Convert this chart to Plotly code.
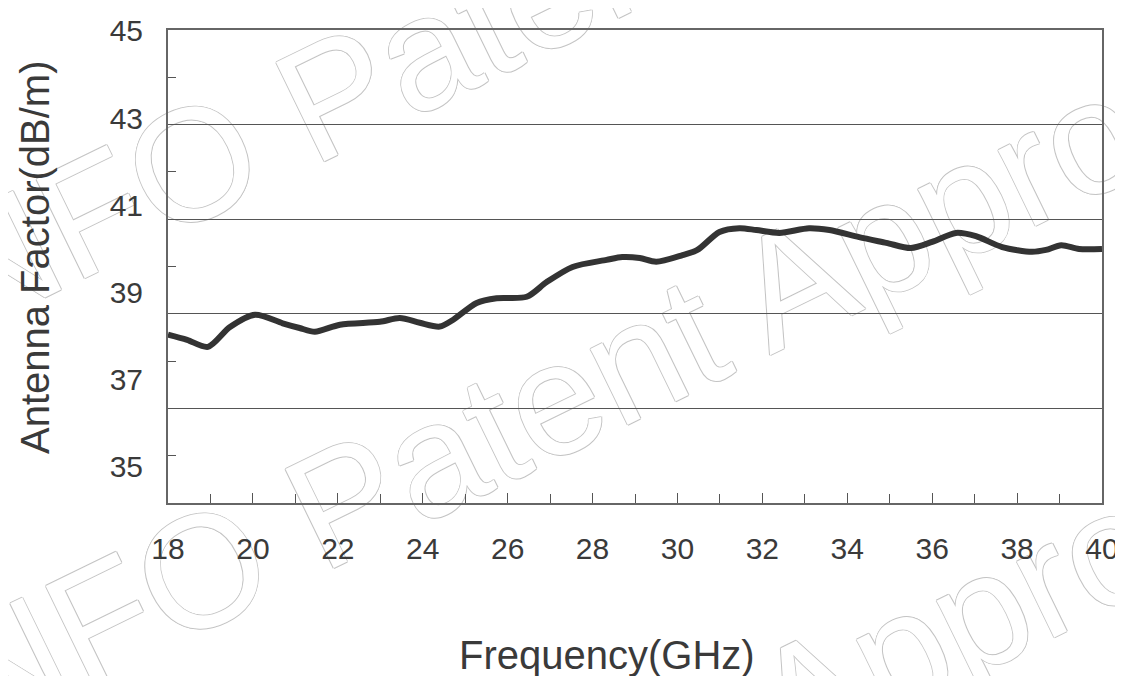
import plotly.graph_objects as go

# Frequency (GHz) and antenna factor (dB/m)
freq_ghz = [18.0, 18.45, 18.94, 19.46, 20.05, 20.7, 21.1, 21.46, 22.05, 22.99, 23.46,
            23.93, 24.4, 24.71, 25.27, 25.74, 26.45, 26.92, 27.53, 28.33, 28.7, 29.11,
            29.5, 30.12, 30.47, 30.99, 31.46, 31.86, 32.4, 33.1, 33.58, 34.28, 34.92,
            35.5, 36.0, 36.56, 37.03, 37.65, 38.35, 38.68, 39.04, 39.46, 40.0]
antenna_factor = [38.56, 38.45, 38.30, 38.72, 38.98, 38.80, 38.70, 38.62, 38.77, 38.83, 38.91,
                  38.81, 38.73, 38.87, 39.23, 39.33, 39.36, 39.67, 39.99, 40.14, 40.20, 40.18,
                  40.10, 40.24, 40.35, 40.73, 40.81, 40.77, 40.71, 40.81, 40.77, 40.62, 40.50,
                  40.39, 40.52, 40.71, 40.64, 40.41, 40.31, 40.35, 40.45, 40.37, 40.37]

x_ticks = [18, 20, 22, 24, 26, 28, 30, 32, 34, 36, 38, 40]
y_grid = [37, 39, 41, 43]
y_minor = [36, 38, 40, 42, 44]
y_labels = [35, 37, 39, 41, 43, 45]

watermark_text = "INFO Patent Approval"

FONT = "Liberation Sans, Arial, sans-serif"
TXT = "#3a3a3a"

fig = go.Figure()
fig.add_trace(go.Scatter(
    x=freq_ghz, y=antenna_factor, mode="lines",
    line=dict(color="#333333", width=6, shape="spline", smoothing=0.8),
    showlegend=False, hoverinfo="skip"))
fig.add_trace(go.Scatter(x=[None], y=[None], yaxis="y2", mode="lines",
                         showlegend=False, hoverinfo="skip"))

# watermark (outlined light text, drawn beneath the plot content)
wm_centers = [(0.46, 1.17), (0.47, 0.31), (0.49, -0.56)]
for cx, cy in wm_centers:
    fig.add_shape(
        type="rect", xref="paper", yref="paper",
        x0=cx - 0.05, x1=cx + 0.05, y0=cy - 0.05, y1=cy + 0.05,
        line=dict(width=0), fillcolor="rgba(0,0,0,0)", layer="below",
        label=dict(
            text=watermark_text, textangle=-26, textposition="middle center",
            font=dict(family=FONT, size=160, color="white",
                      shadow="1px 0 0 #c4c4c4, -1px 0 0 #c4c4c4, 0 1px 0 #c4c4c4, 0 -1px 0 #c4c4c4"),
        ))

fig.update_layout(
    width=1107, height=668,
    margin=dict(l=160, r=13, t=22, b=173, autoexpand=False),
    paper_bgcolor="white", plot_bgcolor="rgba(0,0,0,0)",
    font=dict(family=FONT, color=TXT),
    xaxis=dict(
        range=[18, 40], tickvals=x_ticks, ticks="inside", ticklen=10, tickwidth=1.3,
        tickcolor="#555", showgrid=False, zeroline=False, automargin=False,
        showline=True, mirror=True, linecolor="#666", linewidth=1.6,
        tickfont=dict(size=30, color=TXT), ticklabelstandoff=18,
        ticklabeloverflow="allow",
        minor=dict(dtick=1, ticks="inside", ticklen=9, tickwidth=1.3, tickcolor="#555", showgrid=False),
    ),
    yaxis=dict(
        range=[35, 45], tickvals=y_grid, ticks="", showticklabels=False,
        showgrid=True, gridcolor="#555", gridwidth=1.3, zeroline=False, automargin=False,
        showline=True, mirror=True, linecolor="#666", linewidth=1.6,
        minor=dict(tickvals=y_minor, ticks="inside", ticklen=8, tickwidth=1.3, tickcolor="#555", showgrid=False),
    ),
    yaxis2=dict(
        overlaying="y", side="left", range=[34.17, 45.02], tickvals=y_labels,
        ticks="", showgrid=False, zeroline=False, showline=False, automargin=False,
        tickfont=dict(size=30, color=TXT), ticklabelstandoff=24,
        ticklabeloverflow="allow",
    ),
    annotations=[
        dict(text="Antenna Factor(dB/m)", xref="paper", yref="paper", x=-0.1424, y=0.52,
             textangle=-90, showarrow=False, xanchor="center", yanchor="middle",
             font=dict(size=40, color=TXT, family=FONT)),
        dict(text="Frequency(GHz)", xref="paper", yref="paper", x=0.470, y=-0.321,
             showarrow=False, xanchor="center", yanchor="middle",
             font=dict(size=40, color=TXT, family=FONT)),
    ],
)

fig.write_html("out.html")
